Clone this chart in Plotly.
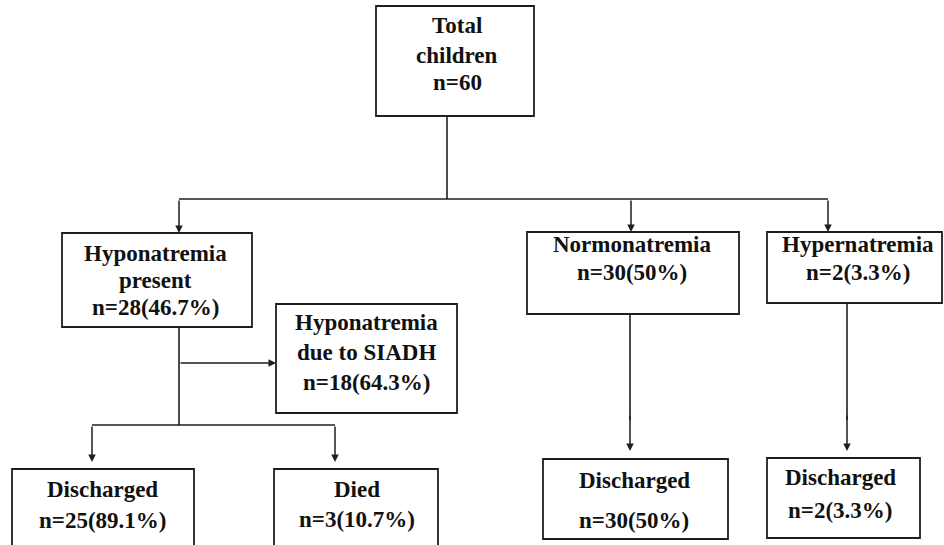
import plotly.graph_objects as go

# ---- data ----
node_titles = [
    ["Total", "children"],
    ["Hyponatremia", "present"],
    ["Hyponatremia", "due to SIADH"],
    ["Normonatremia"],
    ["Hypernatremia"],
    ["Discharged"],
    ["Died"],
    ["Discharged"],
    ["Discharged"],
]
node_n = [60, 28, 18, 30, 2, 25, 3, 30, 2]
node_pct = [None, 46.7, 64.3, 50, 3.3, 89.1, 10.7, 50, 3.3]

# ---- layout (pixel space: x right, y down) ----
boxes = [
    (376, 6, 534, 116),
    (62, 233, 252, 327),
    (276, 304, 457, 413),
    (527, 232, 739, 314),
    (767, 232, 942, 303),
    (12, 469, 194, 570),
    (274, 469, 438, 570),
    (543, 459, 728, 539),
    (767, 458, 920, 538),
]
text_cx = [457, 155, 366, 632, 858, 102, 357, 634, 840]
baselines = [
    [33, 63, 90],
    [261, 288, 315],
    [330, 360, 390],
    [252, 280],
    [252, 280],
    [497, 528],
    [497, 527],
    [488, 528],
    [485, 518],
]

lines = [  # plain connector segments
    (447, 116, 447, 199),
    (179, 199, 828, 199),
    (179, 327, 179, 425),
    (92, 425, 335, 425),
    (630, 314, 630, 420),
    (847, 303, 847, 420),
]
arrows = [  # (x_from, y_from, x_to, y_to)
    (179, 199, 179, 233),
    (631, 199, 631, 232),
    (828, 199, 828, 232),
    (179, 363, 276, 363),
    (92, 425, 92, 462),
    (335, 425, 335, 462),
    (630, 414, 630, 451),
    (847, 414, 847, 451),
]

INK = "#1e1e1e"
FONT = dict(family="Liberation Serif", size=23, color="#111111")

fig = go.Figure()
fig.add_trace(go.Scatter(x=[0, 944], y=[0, 545], mode="markers",
                         marker=dict(opacity=0), hoverinfo="skip", showlegend=False))

for (x0, y0, x1, y1) in boxes:
    fig.add_shape(type="rect", x0=x0, y0=y0, x1=x1, y1=y1, xref="x", yref="y",
                  line=dict(color=INK, width=1.8), fillcolor="white")

for (x0, y0, x1, y1) in lines:
    fig.add_shape(type="line", x0=x0, y0=y0, x1=x1, y1=y1, xref="x", yref="y",
                  line=dict(color=INK, width=1.6))

for (xa, ya, xb, yb) in arrows:
    fig.add_annotation(x=xb, y=yb, ax=xa, ay=ya, xref="x", yref="y", axref="x", ayref="y",
                       showarrow=True, arrowhead=2, arrowsize=1.0, arrowwidth=1.5,
                       arrowcolor=INK, text="")

for i, title in enumerate(node_titles):
    pct = node_pct[i]
    count = f"n={node_n[i]}" if pct is None else f"n={node_n[i]}({pct:g}%)"
    texts = title + [count]
    for t, b in zip(texts, baselines[i]):
        fig.add_annotation(x=text_cx[i], y=b - 8, xref="x", yref="y", text=f"<b>{t}</b>",
                           showarrow=False, xanchor="center", yanchor="middle", font=FONT)

fig.update_xaxes(range=[0, 944], visible=False, fixedrange=True)
fig.update_yaxes(range=[545, 0], visible=False, fixedrange=True)
fig.update_layout(width=944, height=545, margin=dict(l=0, r=0, t=0, b=0),
                  plot_bgcolor="white", paper_bgcolor="white", showlegend=False)

fig.write_html("out.html", config={"displayModeBar": False},
               post_script="document.body.style.margin='0';document.body.style.overflow='hidden';")
